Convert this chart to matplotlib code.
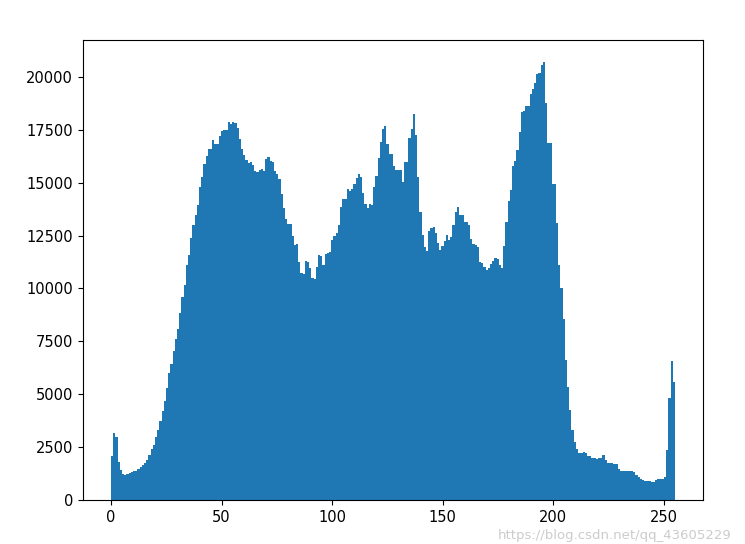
import numpy as np
import matplotlib
matplotlib.use('Agg')
import matplotlib.pyplot as plt

# pixel-count histogram of a grayscale image, 256 bins (levels 0..255)
counts_0_63 = [
    2070, 3170, 2980, 1800, 1410, 1220, 1160, 1220, 1290, 1330, 1350, 1370, 1440, 1540, 1650, 1760,
    1910, 2120, 2430, 2620, 2980, 3290, 3750, 4200, 4700, 5300, 5990, 6430, 7030, 7610, 8080, 8850,
    9600, 10150, 11100, 11560, 12380, 13020, 13490, 13960, 14780, 15290, 15900, 16270, 16600, 16600, 17020, 16820,
    16820, 17210, 17440, 17490, 17490, 17880, 17780, 17870, 17800, 17600, 17080, 16570, 16290, 16070, 15910, 16000,
]
counts_64_127 = [
    15850, 15530, 15500, 15610, 15650, 15530, 16100, 16200, 16030, 16000, 15560, 15420, 15190, 14460, 13800, 13300,
    13050, 13050, 12470, 12050, 12080, 11260, 10710, 10670, 11290, 11260, 10950, 10480, 10430, 11030, 11590, 11530,
    11100, 11620, 11690, 11720, 12300, 12500, 12630, 13020, 13840, 14250, 14250, 14720, 14620, 14720, 14930, 15200,
    15430, 15250, 14500, 13990, 13780, 13990, 13960, 14780, 15300, 16150, 16940, 17540, 17700, 16820, 16340, 16340,
]
counts_128_191 = [
    15770, 15610, 15610, 15600, 15050, 16000, 16000, 17100, 17540, 18230, 17250, 15250, 13620, 12520, 11950, 11750,
    12710, 12860, 12900, 12630, 12150, 11800, 12000, 12250, 12550, 12300, 12420, 13020, 13620, 13840, 13460, 13450,
    13150, 13150, 13020, 12360, 12110, 12050, 11950, 11260, 11200, 11010, 10860, 10980, 11140, 11290, 11420, 11400,
    11100, 10980, 12000, 13130, 14120, 14670, 15800, 16030, 16550, 17410, 18320, 18390, 18620, 18650, 19190, 19450,
]
counts_192_255 = [
    19730, 20160, 20200, 20550, 20700, 18790, 16860, 16860, 14930, 14930, 13100, 11100, 10040, 8550, 6620, 5330,
    4270, 3290, 2750, 2430, 2230, 2230, 2250, 2200, 2070, 2070, 1960, 1960, 1940, 1960, 1960, 2120,
    1880, 1760, 1760, 1760, 1690, 1690, 1440, 1380, 1380, 1380, 1380, 1380, 1360, 1330, 1180, 1100,
    970, 940, 910, 910, 900, 860, 860, 940, 970, 970, 970, 1100, 2350, 4830, 6550, 5570,
]
counts = counts_0_63 + counts_64_127 + counts_128_191 + counts_192_255
levels = np.arange(256)

fig, ax = plt.subplots(figsize=(7.45, 5.44), dpi=100)
fig.subplots_adjust(left=0.111, right=0.944, top=0.926, bottom=0.081)

ax.hist(levels, bins=256, range=(0, 255), weights=counts, color='#1f77b4')
ax.set_xticks([0, 50, 100, 150, 200, 250])
ax.set_yticks(np.arange(0, 20001, 2500))
ax.tick_params(labelsize=10.5)

# blog watermark in the bottom-right corner
fig.text(0.668, 0.004, 'https://blog.csdn.net/qq_43605229', color='#cccccc',
         fontsize=9.5, va='bottom')

plt.savefig('out.png', dpi=100)
